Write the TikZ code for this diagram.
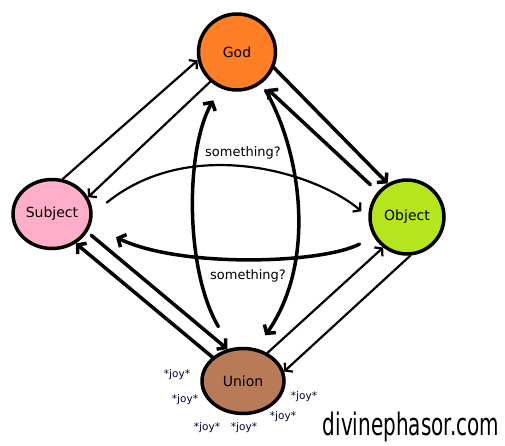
\documentclass[tikz,border=0pt]{standalone}
\usepackage{fontspec}
\setmainfont{DejaVu Sans}
\usepackage{xcolor}
\usepackage{tikz}
\usetikzlibrary{shapes.geometric, arrows.meta}
\usetikzlibrary{calc,positioning}

\definecolor{godorange}{RGB}{255,127,39}
\definecolor{subjpink}{RGB}{255,174,201}
\definecolor{objlime}{RGB}{181,230,29}
\definecolor{unionbrown}{RGB}{185,122,87}

\tikzset{
    blob/.style={ellipse, draw=black, line width=3.5pt, inner sep=0pt,
        font=\fontsize{14}{16}\selectfont},
    thicklink/.style={line width=3.5pt, line cap=round, line join=round,
        -{Straight Barb[length=6pt,width=14pt]}},
    thinlink/.style={line width=2.2pt, line cap=round, line join=round,
        -{Straight Barb[length=5pt,width=12pt]}},
    sth/.style={font=\fontsize{13}{15}\selectfont},
    joy/.style={font=\fontsize{10.5}{12}\selectfont, text=black!80!blue},
}

\begin{document}
\begin{tikzpicture}[x=1pt,y=-1pt]
    \useasboundingbox (0,0) rectangle (505,446);

    % Kringen
    \node[blob, fill=godorange, minimum width=77pt, minimum height=76pt] (god) at (237,52) {God};
    \node[blob, fill=subjpink, minimum width=78pt, minimum height=69pt] (subj) at (52,214) {Subject};
    \node[blob, fill=objlime, minimum width=74pt, minimum height=74pt] (obj) at (407,217) {Object};
    \node[blob, fill=unionbrown, minimum width=82pt, minimum height=65pt] (union) at (243,381) {Union};

    % Subject - God
    \draw[thinlink] (subj.73) -- (god.192);
    \draw[thinlink] (god.228) -- (subj.25);

    % Subject - Object
    \draw[thinlink, shorten <=18pt, shorten >=9pt] (subj.0) .. controls (190,135) and (315,172) .. (obj.180);
    \draw[thicklink, shorten <=16pt, shorten >=28pt] (obj.211) .. controls (320,264) and (180,268) .. (subj.-16);
    \node[sth] (sth1) at (243,153) {something?};
    \node[sth] (sth2) at (248,276) {something?};

    % God - Union
    \draw[thicklink, shorten <=25pt, shorten >=14pt] (union.110) .. controls (185,270) and (185,150) .. (god.245);
    \draw[thicklink, shorten <=8pt, shorten >=16pt] (god.-52) .. controls (300,150) and (318,260) .. (union.68);

    % Subject - Union
    \draw[thicklink] (union.142) -- (subj.-51);
    \draw[thicklink, shorten <=5pt] (subj.-27) -- (union.116);

    % Union - Object
    \draw[thinlink] (union.49) -- (obj.232);
    \draw[thinlink] (obj.-85) -- (union.13);

    % God - Object
    \draw[thicklink] (god.-23) -- (obj.120);
    \draw[thicklink, shorten <=10pt, shorten >=8pt] (obj.139) -- (god.-52);

    % joy
    \foreach \x/\y [count=\i] in {177/375, 185/400, 207/428, 244/428, 283/417, 304/397}
        \node[joy] (joy\i) at (\x,\y) {*joy*};

    \node[anchor=base, font=\fontsize{20}{22}\selectfont] (site) at (411,435)
        {\scalebox{1}[1.55]{divinephasor.com}};

\end{tikzpicture}
\end{document}
